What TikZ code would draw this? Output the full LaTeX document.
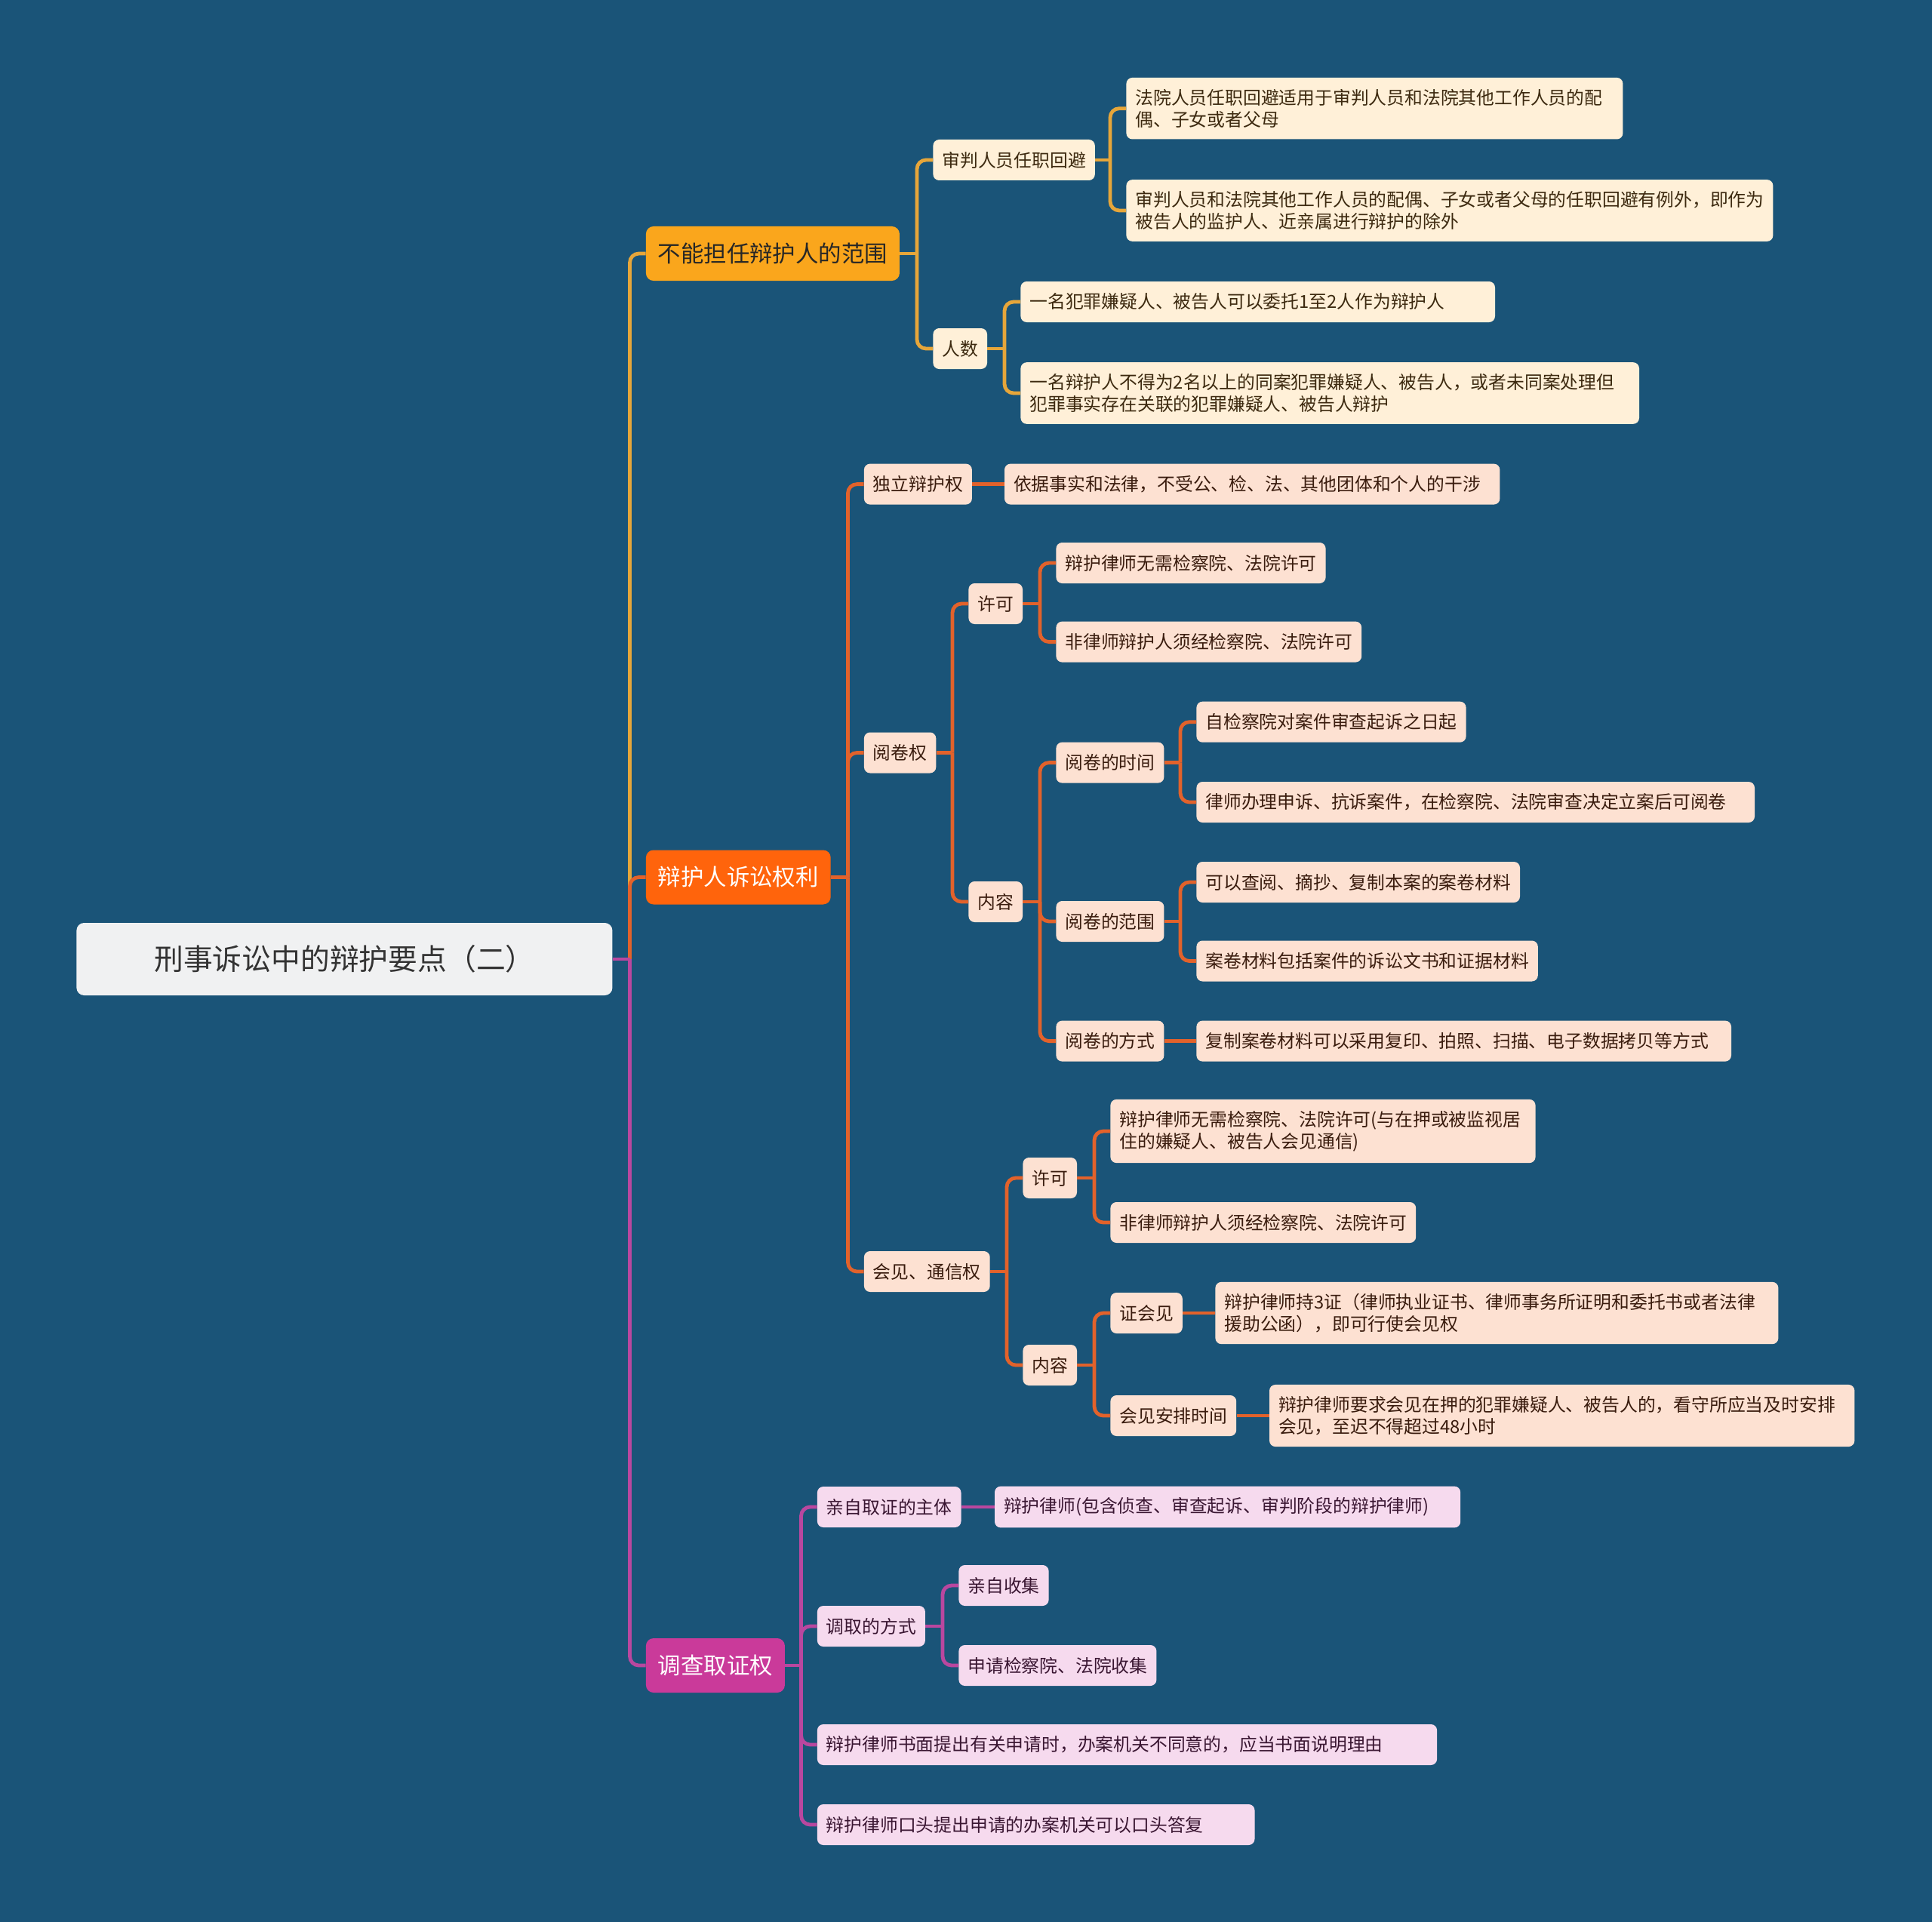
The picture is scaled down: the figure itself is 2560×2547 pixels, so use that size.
\documentclass[tikz,border=0pt]{standalone}
\usepackage{fontspec}
\setmainfont{Noto Sans CJK SC}
\usetikzlibrary{calc}
\definecolor{bg}{HTML}{1A5478}
\definecolor{rootfill}{HTML}{F0F1F2}
\definecolor{roottext}{HTML}{333333}
\definecolor{yfill}{HTML}{FAA61C}
\definecolor{ofill}{HTML}{FF640C}
\definecolor{mfill}{HTML}{CA3A9A}
\definecolor{yline}{HTML}{E6A63A}
\definecolor{oline}{HTML}{E2622B}
\definecolor{mline}{HTML}{B9479F}
\definecolor{cream}{HTML}{FFF0D8}
\definecolor{peach}{HTML}{FDE1D2}
\definecolor{pink}{HTML}{F6DAEE}
\definecolor{ctext}{HTML}{3D2A10}
\definecolor{ptext}{HTML}{3A1C0E}
\definecolor{mtext}{HTML}{3A1632}
\tikzset{
  box/.style={rounded corners=4pt, inner xsep=6pt, inner ysep=7.5pt, anchor=west, align=left,
    font=\fontsize{11.9}{14.7}\selectfont, minimum height=27pt},
  ybox/.style={box, fill=cream, text=ctext},
  obox/.style={box, fill=peach, text=ptext},
  mbox/.style={box, fill=pink, text=mtext},
  lone/.style={rounded corners=5pt, inner xsep=8pt, anchor=west, minimum height=36pt,
    font=\fontsize{15.2}{18}\selectfont},
  yl/.style={draw=yline, line width=2.4pt},
  ol/.style={draw=oline, line width=2.4pt},
  ml/.style={draw=mline, line width=2.4pt},
}
\newcommand{\lnk}[3]{%
  \coordinate (tmpT) at ($(#2.east -| #3.west)+(-10.5pt,0)$);
  \draw[#1] (#2.east) -- (tmpT);
  \draw[#1, rounded corners=6pt] (tmpT) |- (#3.west);
}
\newcommand{\lnks}[3]{%
  \draw[#1] (#2.east) -- (#3.west);
}
\begin{document}
\begin{tikzpicture}[x=0.5pt,y=-0.5pt]
\fill[bg] (0,0) rectangle (2560,2547);
\useasboundingbox (0,0) rectangle (2560,2547);

% root
\node[rounded corners=5pt, fill=rootfill, text=roottext, anchor=west, minimum width=355pt, minimum height=48pt,
  font=\fontsize{19.4}{22}\selectfont] (root) at (101,1271) {刑事诉讼中的辩护要点（二）};

% level 1
\node[lone, fill=yfill, text=black!85] (n1) at (855.5,336) {不能担任辩护人的范围};
\node[lone, fill=ofill, text=white] (n2) at (855.5,1162.5) {辩护人诉讼权利};
\node[lone, fill=mfill, text=white] (n3) at (855.5,2207) {调查取证权};

% branch 1
\node[ybox] (a) at (1236,212) {审判人员任职回避};
\node[ybox, text width=317pt] (a1) at (1492,143.7) {法院人员任职回避适用于审判人员和法院其他工作人员的配\\偶、子女或者父母};
\node[ybox] (a2) at (1492,279) {审判人员和法院其他工作人员的配偶、子女或者父母的任职回避有例外，即作为\\被告人的监护人、近亲属进行辩护的除外};
\node[ybox] (b) at (1236,462) {人数};
\node[ybox, text width=302.3pt] (b1) at (1352,400) {一名犯罪嫌疑人、被告人可以委托1至2人作为辩护人};
\node[ybox, text width=397.8pt] (b2) at (1352,521) {一名辩护人不得为2名以上的同案犯罪嫌疑人、被告人，或者未同案处理但\\犯罪事实存在关联的犯罪嫌疑人、被告人辩护};

% branch 2
\node[obox] (c) at (1144.5,641.6) {独立辩护权};
\node[obox, text width=316.2pt] (c1) at (1330.6,641.6) {依据事实和法律，不受公、检、法、其他团体和个人的干涉};
\node[obox] (d) at (1144.5,997.5) {阅卷权};
\node[obox] (d1) at (1283,800) {许可};
\node[obox] (d1a) at (1399,746) {辩护律师无需检察院、法院许可};
\node[obox] (d1b) at (1399,850.6) {非律师辩护人须经检察院、法院许可};
\node[obox] (d2) at (1283,1195) {内容};
\node[obox] (d2a) at (1399,1010.6) {阅卷的时间};
\node[obox] (d2a1) at (1585,956.7) {自检察院对案件审查起诉之日起};
\node[obox, text width=357.8pt] (d2a2) at (1585,1063) {律师办理申诉、抗诉案件，在检察院、法院审查决定立案后可阅卷};
\node[obox] (d2b) at (1399,1221) {阅卷的范围};
\node[obox] (d2b1) at (1585,1169) {可以查阅、摘抄、复制本案的案卷材料};
\node[obox] (d2b2) at (1585,1273.5) {案卷材料包括案件的诉讼文书和证据材料};
\node[obox] (d2c) at (1399,1379.6) {阅卷的方式};
\node[obox, text width=342.3pt] (d2c1) at (1585,1379.6) {复制案卷材料可以采用复印、拍照、扫描、电子数据拷贝等方式};
\node[obox] (e) at (1144.5,1685) {会见、通信权};
\node[obox] (e1) at (1355,1561) {许可};
\node[obox, text width=269.6pt] (e1a) at (1471,1499) {辩护律师无需检察院、法院许可(与在押或被监视居\\住的嫌疑人、被告人会见通信)};
\node[obox] (e1b) at (1471,1620) {非律师辩护人须经检察院、法院许可};
\node[obox] (e2) at (1355,1809) {内容};
\node[obox] (e2a) at (1471,1740) {证会见};
\node[obox, text width=361pt] (e2a1) at (1610,1740) {辩护律师持3证（律师执业证书、律师事务所证明和委托书或者法律\\援助公函），即可行使会见权};
\node[obox] (e2b) at (1471,1876) {会见安排时间};
\node[obox, text width=375.7pt] (e2b1) at (1681.6,1876) {辩护律师要求会见在押的犯罪嫌疑人、被告人的，看守所应当及时安排\\会见，至迟不得超过48小时};

% branch 3
\node[mbox] (f) at (1082.5,1997) {亲自取证的主体};
\node[mbox, text width=296.6pt] (f1) at (1317.6,1997) {辩护律师(包含侦查、审查起诉、审判阶段的辩护律师)};
\node[mbox] (g) at (1082.5,2155) {调取的方式};
\node[mbox] (g1) at (1270,2101) {亲自收集};
\node[mbox] (g2) at (1270,2207) {申请检察院、法院收集};
\node[mbox, text width=398.6pt] (h) at (1082.5,2312) {辩护律师书面提出有关申请时，办案机关不同意的，应当书面说明理由};
\node[mbox, text width=277.8pt] (i) at (1082.5,2418) {辩护律师口头提出申请的办案机关可以口头答复};

% connectors
\lnk{yl}{root}{n1}
\lnk{ol}{root}{n2}
\lnk{ml}{root}{n3}

\lnk{yl}{n1}{a}
\lnk{yl}{n1}{b}
\lnk{yl}{a}{a1}
\lnk{yl}{a}{a2}
\lnk{yl}{b}{b1}
\lnk{yl}{b}{b2}

\lnk{ol}{n2}{c}
\lnk{ol}{n2}{d}
\lnk{ol}{n2}{e}
\lnks{ol}{c}{c1}
\lnk{ol}{d}{d1}
\lnk{ol}{d}{d2}
\lnk{ol}{d1}{d1a}
\lnk{ol}{d1}{d1b}
\lnk{ol}{d2}{d2a}
\lnk{ol}{d2}{d2b}
\lnk{ol}{d2}{d2c}
\lnk{ol}{d2a}{d2a1}
\lnk{ol}{d2a}{d2a2}
\lnk{ol}{d2b}{d2b1}
\lnk{ol}{d2b}{d2b2}
\lnks{ol}{d2c}{d2c1}
\lnk{ol}{e}{e1}
\lnk{ol}{e}{e2}
\lnk{ol}{e1}{e1a}
\lnk{ol}{e1}{e1b}
\lnk{ol}{e2}{e2a}
\lnk{ol}{e2}{e2b}
\lnks{ol}{e2a}{e2a1}
\lnks{ol}{e2b}{e2b1}

\lnk{ml}{n3}{f}
\lnk{ml}{n3}{g}
\lnk{ml}{n3}{h}
\lnk{ml}{n3}{i}
\lnks{ml}{f}{f1}
\lnk{ml}{g}{g1}
\lnk{ml}{g}{g2}
\end{tikzpicture}
\end{document}
